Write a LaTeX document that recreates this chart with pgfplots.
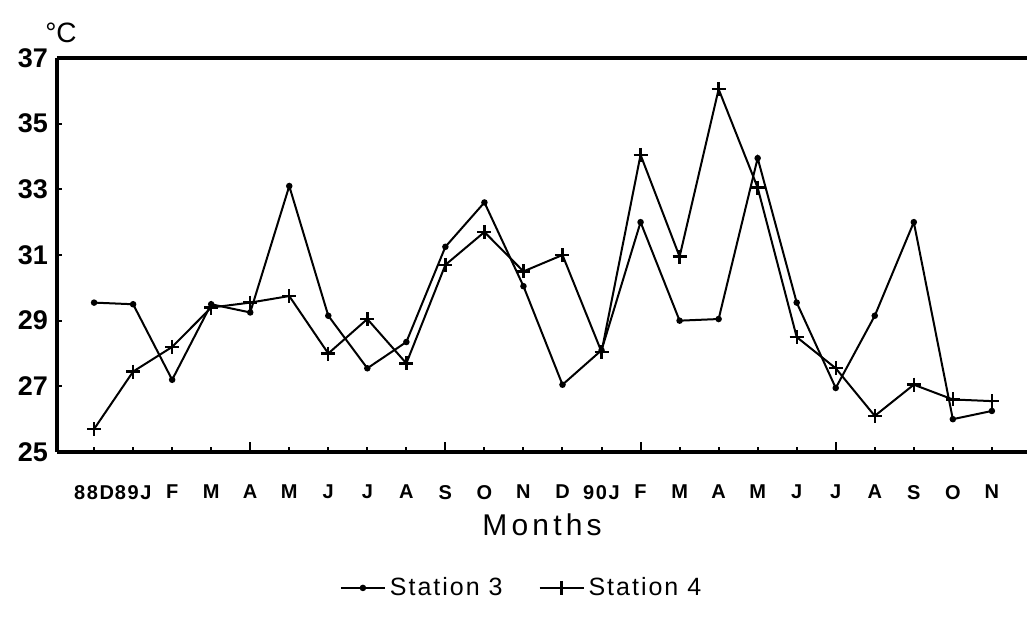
\documentclass[border=0pt]{standalone}
\usepackage{fontspec}
\setmainfont{Liberation Sans}
\usepackage{pgfplots}
\pgfplotsset{compat=1.18}
\begin{document}
\begin{tikzpicture}
\begin{axis}[name=ax, at={(0,0)}, anchor=south west,
  scale only axis, width=485pt, height=197pt,
  xmin=-0.95, xmax=23.9, ymin=25, ymax=37,
  axis x line=box, axis y line=left,
  every non boxed y axis/.append style={y axis line style=-},
  axis line style={line width=1.6pt, -},
  xtick pos=bottom, ytick pos=left,
  tick align=inside, major tick length=2.5pt,
  tick style={black, line width=1pt},
  xtick={0,...,23},
  xticklabels={88D,89J,F,M,A,M,J,J,A,S,O,N,D,90J,F,M,A,M,J,J,A,S,O,N},
  extra x ticks={4,9,14,19}, extra x tick labels={},
  extra x tick style={major tick length=5pt},
  ytick={25,27,...,37},
  /pgf/number format/assume math mode=true,
  yticklabel style={font=\bfseries\fontsize{13.5}{14}\selectfont, xshift=-1pt},
  xticklabel style={font=\bfseries\fontsize{10}{11}\addfontfeatures{LetterSpace=8}\selectfont, anchor=north, yshift=-13pt},
  xlabel={Months},
  xlabel style={at={(axis description cs:0.5,-0.185)}, anchor=center, font=\fontsize{15}{17}\addfontfeatures{LetterSpace=14}\selectfont},
  legend style={at={(axis description cs:0.48,-0.345)}, anchor=center, draw=none, fill=none,
    font=\fontsize{12.5}{14}\addfontfeatures{LetterSpace=8}\selectfont, /tikz/every even column/.append style={column sep=16pt}},
  legend columns=2,
  legend image code/.code={\draw[#1, mark repeat=2, mark phase=2] plot coordinates {(0pt,0pt) (11pt,0pt) (22pt,0pt)};},
  clip=false,
]
\addplot[black, line width=1pt, mark=*, mark size=1.1pt] coordinates {
(0,29.55) (1,29.5) (2,27.2) (3,29.5) (4,29.25) (5,33.1) (6,29.15) (7,27.55) (8,28.35) (9,31.25) (10,32.6) (11,30.05)
(12,27.05) (13,28.1) (14,32.0) (15,29.0) (16,29.05) (17,33.95) (18,29.55) (19,26.95) (20,29.15) (21,32.0) (22,26.0) (23,26.25)};
\addlegendentry{Station 3}
\addplot[black, line width=1pt, mark=+, mark size=3.5pt, mark options={line width=1.2pt}] coordinates {
(0,25.7) (1,27.45) (2,28.2) (3,29.4) (4,29.55) (5,29.75) (6,28.0) (7,29.05) (8,27.7) (9,30.7) (10,31.7) (11,30.5)
(12,31.0) (13,28.05) (14,34.05) (15,30.95) (16,36.05) (17,33.05) (18,28.5) (19,27.55) (20,26.1) (21,27.05) (22,26.6) (23,26.55)};
\addlegendentry{Station 4}
\end{axis}
\node[font=\fontsize{14}{15}\selectfont] at ([xshift=2pt,yshift=12.5pt]ax.north west) {°C};
\pgfresetboundingbox
\path ([xshift=-28.5pt,yshift=-82pt]ax.south west) rectangle ([yshift=29pt]ax.north east);
\end{tikzpicture}
\end{document}
